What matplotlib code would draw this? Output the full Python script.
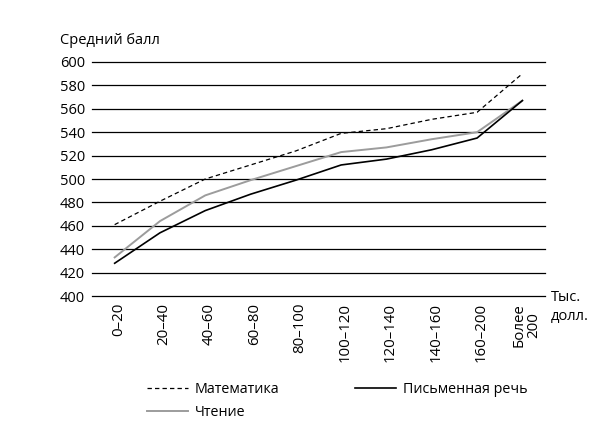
import numpy as np
import matplotlib.pyplot as plt

plt.rcParams['font.family'] = ['Open Sans', 'DejaVu Sans']

categories = ["0–20", "20–40", "40–60", "60–80", "80–100", "100–120",
              "120–140", "140–160", "160–200", "Более\n200"]
math = [461, 481, 500, 512, 524, 539, 543, 551, 557, 590]
writing = [428, 454, 473, 487, 499, 512, 517, 525, 535, 567]
reading = [433, 464, 486, 499, 511, 523, 527, 534, 540, 567]
yticks = list(range(400, 601, 20))

fig = plt.figure(figsize=(6.11, 4.29), dpi=100)
ax = fig.add_axes([0.1506, 0.310, 0.7414, 0.5455])

x = np.arange(len(categories))
l_math, = ax.plot(x, math, color="black", lw=0.9, ls=(0, (3.5, 2.5)), label="Математика")
l_read, = ax.plot(x, reading, color="#9c9c9c", lw=1.4, label="Чтение")
l_writ, = ax.plot(x, writing, color="black", lw=1.2, label="Письменная речь")

ax.set_xlim(-0.5, len(categories) - 0.5)
ax.set_ylim(400, 600)
ax.set_yticks(yticks)
ax.set_yticklabels([str(v) for v in yticks], fontsize=10.5)
# labels sit a few pixels right of the data points in the original
ax.set_xticks(x + 0.09)
ax.set_xticklabels(categories, rotation=90, fontsize=10.8, linespacing=0.9)
ax.tick_params(length=0, pad=5)
ax.yaxis.grid(True, color="black", lw=0.9)
for gl in ax.get_ygridlines():
    gl.set_clip_on(False)
ax.set_axisbelow(True)
for s in ax.spines.values():
    s.set_visible(False)

fig.text(60 / 611, 1 - 40 / 429, "Средний балл", fontsize=10.5, ha="left", va="center")
fig.text(551 / 611, 1 - 307 / 429, "Тыс.\nдолл.", fontsize=10.5, ha="left", va="center",
         linespacing=1.35)

fig.legend(handles=[l_math, l_read, l_writ], ncol=2, frameon=False, fontsize=10.3,
           loc="center", bbox_to_anchor=(337 / 611, 1 - 401 / 429),
           handlelength=2.9, handletextpad=0.45, columnspacing=5.3, labelspacing=0.55)

fig.savefig("out.png", dpi=100)
